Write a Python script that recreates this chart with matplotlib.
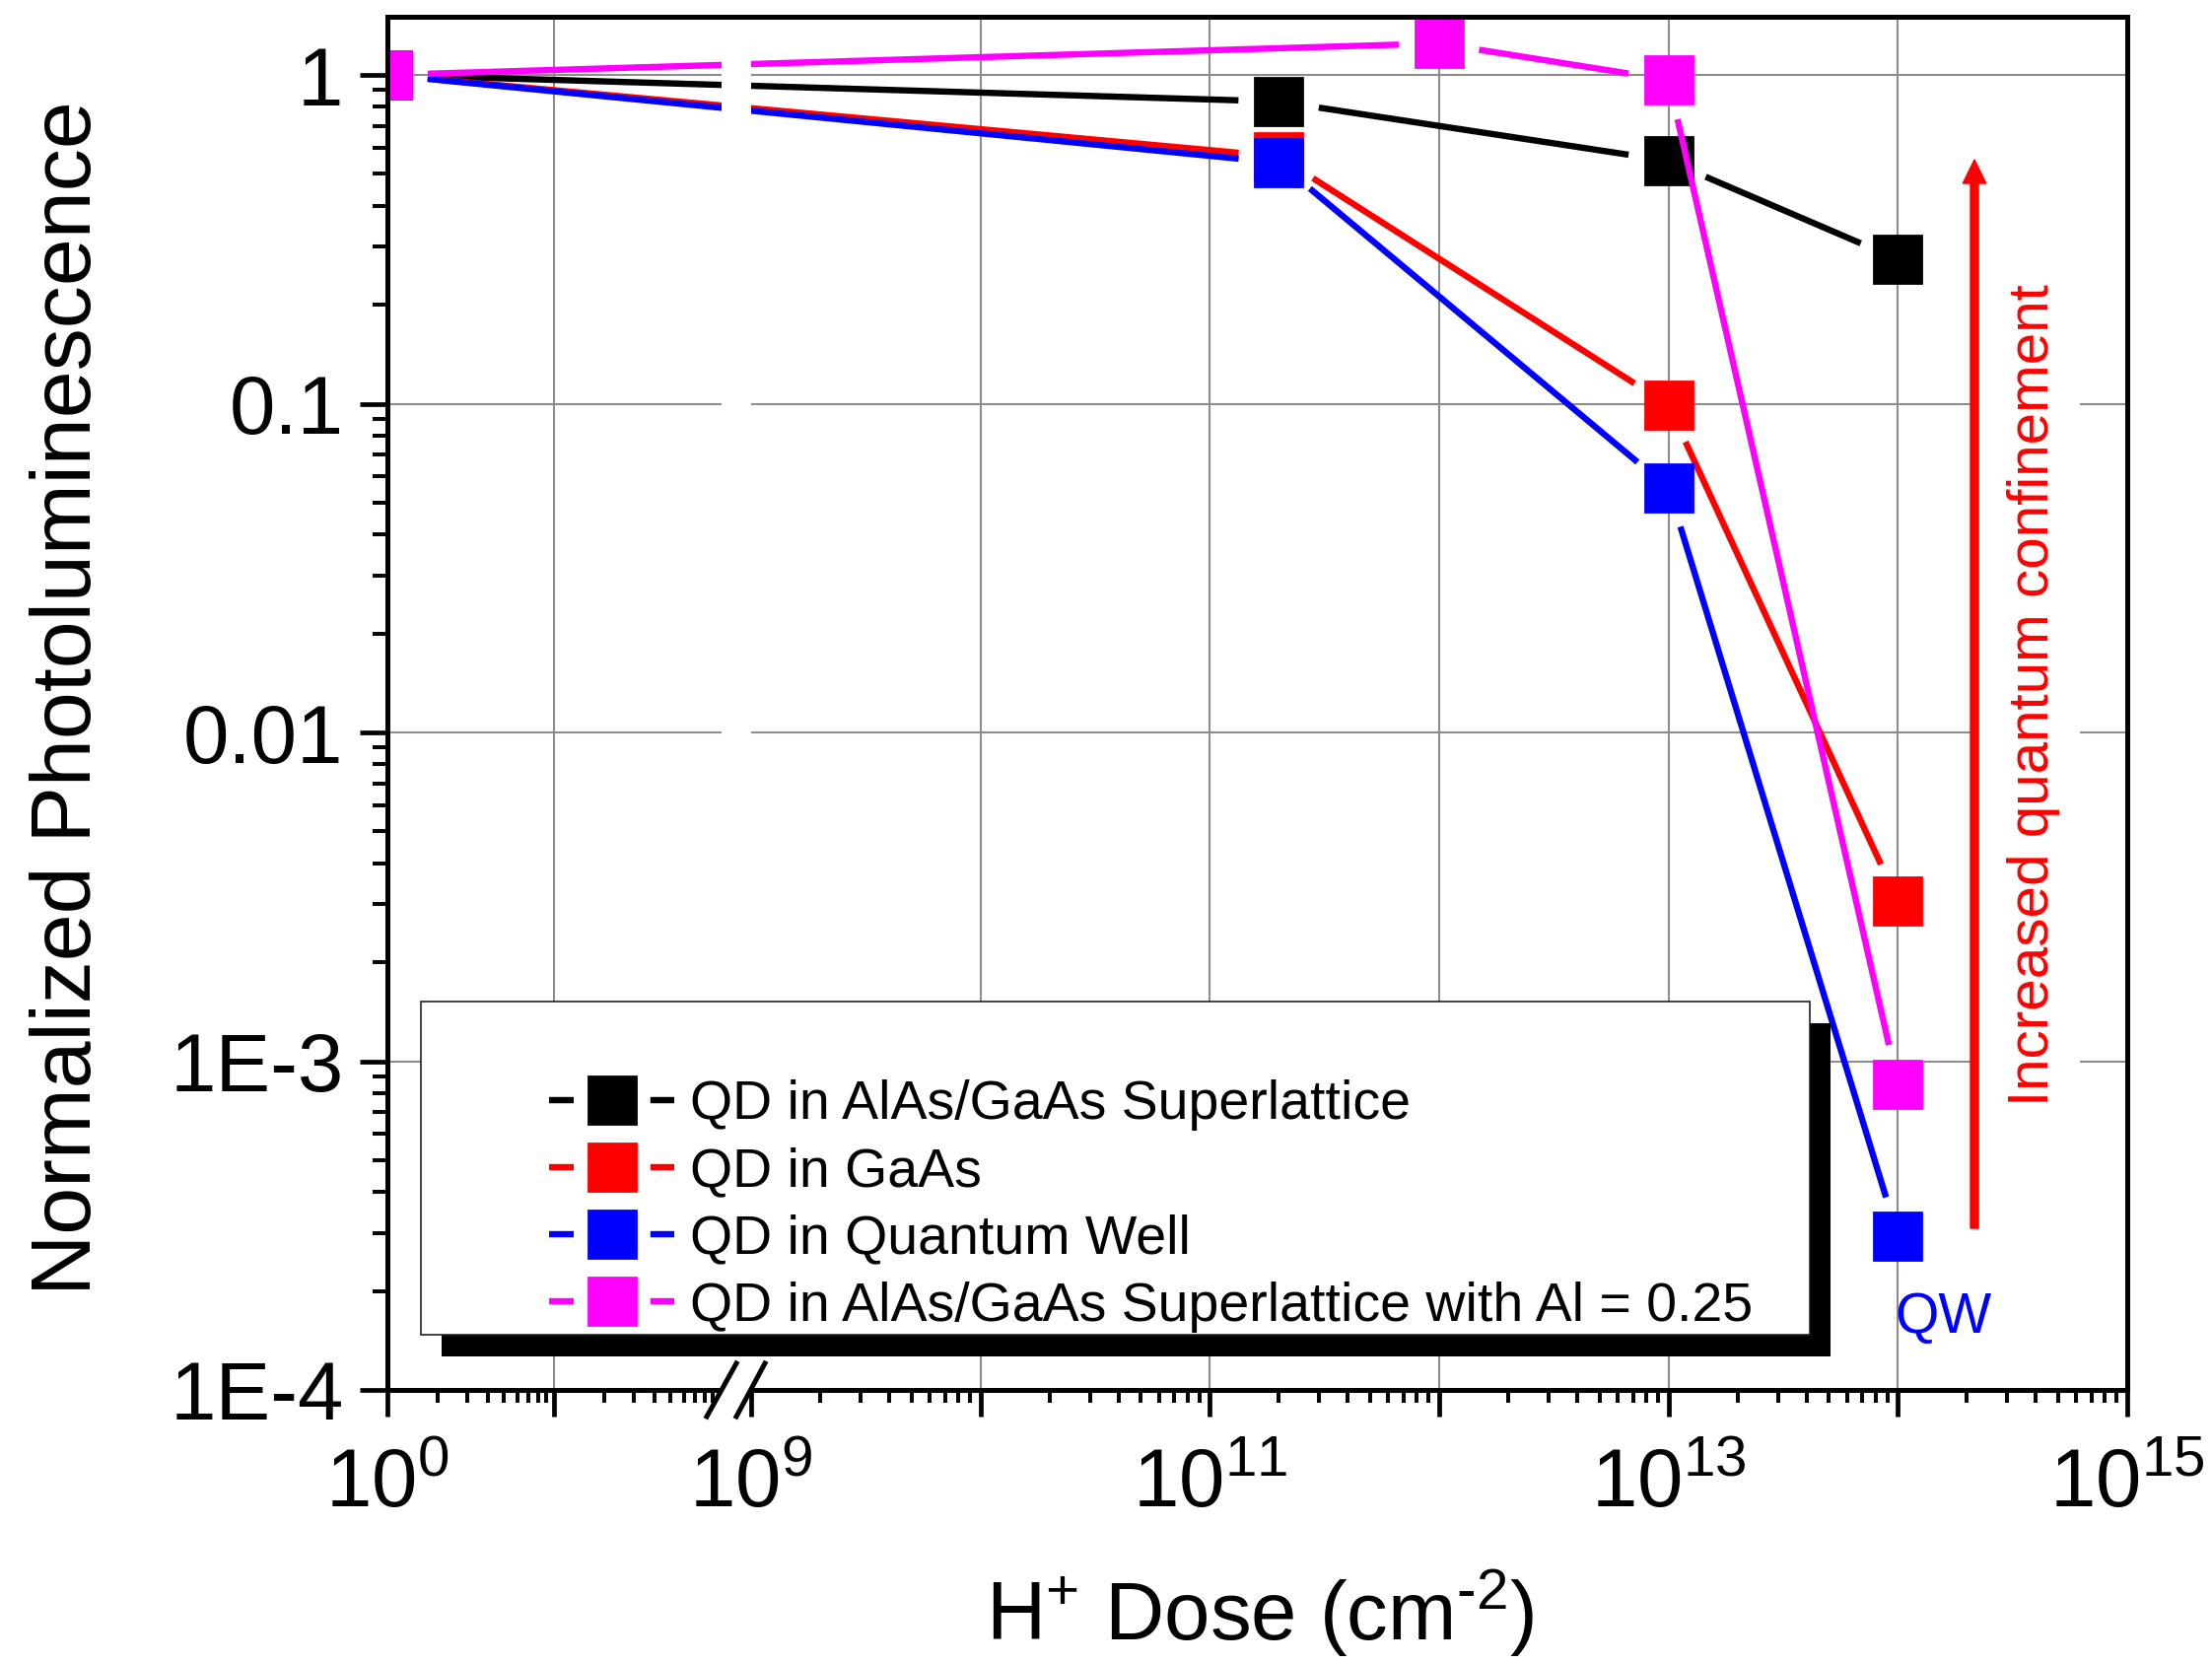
import numpy as np
import matplotlib
matplotlib.use("Agg")
import matplotlib.pyplot as plt
from matplotlib.ticker import FixedLocator, FixedFormatter
from matplotlib.lines import Line2D
from matplotlib.patches import Rectangle, FancyArrow
from matplotlib.legend_handler import HandlerTuple

# ---- data ----
dose = [1, 2e11, 1e13, 1e14]
dose_al = [1, 1e12, 1e13, 1e14]
pl_superlattice = [1, 0.83, 0.548, 0.275]
pl_gaas = [1, 0.565, 0.099, 0.00307]
pl_qw = [1, 0.541, 0.0554, 2.94e-4]
pl_al025 = [1, 1.247, 0.966, 8.5e-4]

labels = ["QD in AlAs/GaAs Superlattice", "QD in GaAs", "QD in Quantum Well",
          "QD in AlAs/GaAs Superlattice with Al = 0.25"]
colors = ["black", "red", "blue", "magenta"]

x_major = [1, 10, 1e9, 1e10, 1e11, 1e12, 1e13, 1e14, 1e15]
x_major_labels = ["$10^{0}$", "", "$10^{9}$", "", "$10^{11}$", "", "$10^{13}$", "", "$10^{15}$"]
x_grid = [10, 1e10, 1e11, 1e12, 1e13, 1e14]
y_major = [1e-4, 1e-3, 1e-2, 1e-1, 1]
y_major_labels = ["1E-4", "1E-3", "0.01", "0.1", "1"]

plt.rcParams["font.family"] = ["Liberation Sans", "DejaVu Sans"]
plt.rcParams["mathtext.fontset"] = "custom"
plt.rcParams["mathtext.rm"] = "Liberation Sans"
plt.rcParams["mathtext.it"] = "Liberation Sans:italic"
plt.rcParams["mathtext.bf"] = "Liberation Sans:bold"
plt.rcParams["mathtext.default"] = "regular"

W, H, DPI = 2244, 1687, 100
fig = plt.figure(figsize=(W / DPI, H / DPI), dpi=DPI)


def fx(px):
    return px / W


def fy(py):
    return 1 - py / H


ax = fig.add_axes([fx(393), fy(1410), fx(2158) - fx(393), fy(17) - fy(1410)])

# broken log axis: 10^0..10^2 on a short scale, 10^9..10^15 on a longer one
LDEC, G0, G1 = 169.0, 338.0, 369.0
RDEC = (1765.0 - G1) / 6.0


def fwd(x):
    t = np.log10(np.clip(np.asarray(x, dtype=float), 1e-300, None))
    return np.where(t <= 2, LDEC * t,
                    np.where(t < 9, G0 + (t - 2) * (G1 - G0) / 7, G1 + (t - 9) * RDEC))


def inv(u):
    u = np.asarray(u, dtype=float)
    t = np.where(u <= G0, u / LDEC,
                 np.where(u < G1, 2 + (u - G0) * 7 / (G1 - G0), 9 + (u - G1) / RDEC))
    return 10.0 ** t


ax.set_xscale("function", functions=(fwd, inv))
ax.set_yscale("log")
ax.set_xlim(1, 1e15)
ax.set_ylim(1e-4, 1.503)

x_minor = [k * 10.0 ** d for d in (0, 1, 9, 10, 11, 12, 13, 14) for k in range(2, 10)]
ax.xaxis.set_major_locator(FixedLocator(x_major))
ax.xaxis.set_major_formatter(FixedFormatter(x_major_labels))
ax.xaxis.set_minor_locator(FixedLocator(x_minor))
y_minor = [k * 10.0 ** d for d in range(-4, 0) for k in range(2, 10)]
ax.yaxis.set_major_locator(FixedLocator(y_major))
ax.yaxis.set_major_formatter(FixedFormatter(y_major_labels))
ax.yaxis.set_minor_locator(FixedLocator(y_minor))

ax.tick_params(axis="both", which="both", direction="out", top=False, right=False)
ax.tick_params(axis="x", which="major", length=19.5, width=3.4, labelsize=60, pad=22)
ax.tick_params(axis="x", which="minor", length=9.5, width=2.9)
ax.tick_params(axis="y", which="major", length=20, width=3.4, labelsize=60, pad=12)
ax.tick_params(axis="y", which="minor", length=10.5, width=2.9)
for sp in ax.spines.values():
    sp.set_linewidth(3.6)
    sp.set_zorder(3)

ax.set_axisbelow(True)
ax.yaxis.grid(True, which="major", color="#8c8c8c", lw=1.5)
for g in x_grid:
    ax.axvline(g, color="#8c8c8c", lw=1.5, zorder=0.6)

# ---- series: lines stop short of each marker ----
LW = 4.6
GAP = 41.0
series = [(dose, pl_superlattice), (dose, pl_gaas), (dose, pl_qw), (dose_al, pl_al025)]
for i, ((xs, ys), c) in enumerate(zip(series, colors)):
    pts = ax.transData.transform(np.column_stack([xs, ys]))
    back = ax.transData.inverted()
    for p0, p1 in zip(pts[:-1], pts[1:]):
        d = p1 - p0
        u = d / np.hypot(*d)
        seg = back.transform(np.vstack([p0 + u * GAP, p1 - u * GAP]))
        ax.plot(seg[:, 0], seg[:, 1], color=c, lw=LW, solid_capstyle="butt",
                zorder=2 + 0.1 * i)
    ax.plot(xs, ys, ls="none", marker="s", ms=34, mfc=c, mec=c, mew=2,
            zorder=2.05 + 0.1 * i)

# gap in the curves at the axis break
ax.add_patch(Rectangle(((732 - 393) / 1765, 0), 30 / 1765, 1, transform=ax.transAxes,
                       facecolor="white", edgecolor="none", zorder=2.9))

# break marks on the bottom axis
fig.add_artist(Rectangle((fx(733), fy(1416)), fx(28), 12 / H, transform=fig.transFigure,
                         facecolor="white", edgecolor="none", zorder=4))
for xa, xb in ((717, 747), (747, 776)):
    fig.add_artist(Line2D([fx(xa), fx(xb)], [fy(1437), fy(1383)], color="black",
                          lw=3.6, transform=fig.transFigure, zorder=4.5))

# axis labels
fig.text(fx(70), fy(708), "Normalized Photoluminescence", rotation=90,
         ha="center", va="center", fontsize=62)
fig.text(fx(1278), fy(1664), "H$^{+}$ Dose (cm$^{\u2010 2}$)", ha="center", va="baseline",
         fontsize=60)

# legend with a hard black shadow
fig.add_artist(Rectangle((fx(448), fy(1376)), fx(1409), 338 / H, transform=fig.transFigure,
                         facecolor="black", edgecolor="none", zorder=5))
fig.add_artist(Rectangle((fx(427), fy(1354)), fx(1409), 338 / H, transform=fig.transFigure,
                         facecolor="white", edgecolor="#222222", lw=1.2, zorder=6))
dash = (0, (18 / LW, 56 / LW, 18 / LW, 60 / LW))
handles = [(Line2D([], [], color=c, lw=LW, ls=dash, dash_capstyle="butt"),
            Line2D([], [], ls="none", marker="s", ms=34, mfc=c, mec=c, mew=2))
           for c in colors]
leg = fig.legend(handles, labels, loc="center left", bbox_to_anchor=(fx(557), fy(1223.5)),
                 frameon=False, borderpad=0, borderaxespad=0, fontsize=40,
                 handlelength=2.286, handletextpad=0.28, labelspacing=0.29,
                 handler_map={tuple: HandlerTuple(ndivide=1)})
leg.set_zorder(7)

# annotation on the right
fig.add_artist(Rectangle((fx(2001), fy(1250)), fx(109), 1100 / H, transform=fig.transFigure,
                         facecolor="white", edgecolor="none", zorder=5))
fig.add_artist(FancyArrow(fx(2003), fy(1246), 0, (1246 - 162) / H, width=8 / W,
                          head_width=23.5 / W, head_length=24 / H, length_includes_head=True,
                          color="red", transform=fig.transFigure, zorder=6))
fig.text(fx(2063), fy(705), "Increased quantum confinement", rotation=90, color="red",
         ha="center", va="center", fontsize=42, zorder=7)
fig.text(fx(1922), fy(1352), "QW", color="blue", ha="left", va="baseline", fontsize=41,
         zorder=7)

fig.savefig("out.png", dpi=DPI)
